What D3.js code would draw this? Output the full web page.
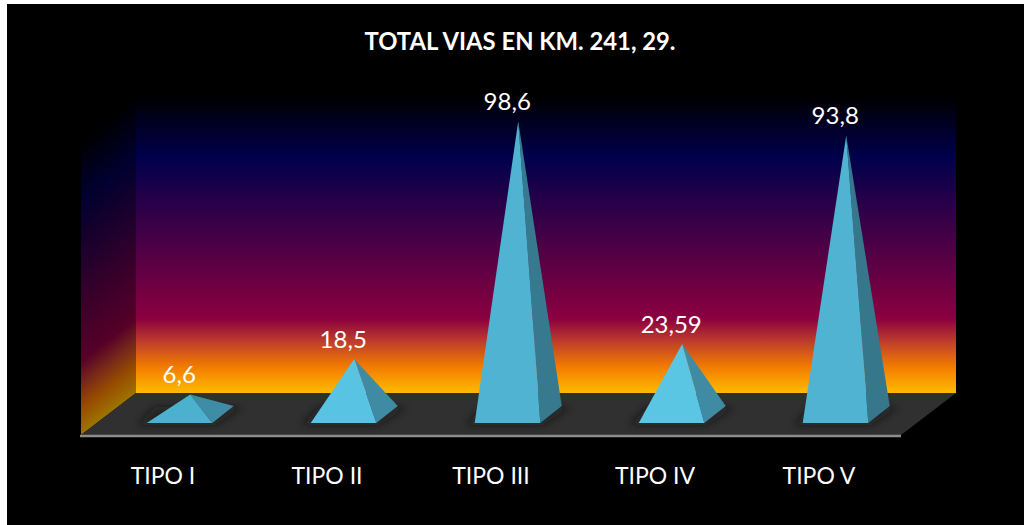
<!DOCTYPE html>
<html>
<head>
<meta charset="utf-8">
<script src="https://cdn.jsdelivr.net/npm/d3@7"></script>
<style>
  html, body { margin: 0; padding: 0; background: #fff; overflow: hidden; }
  text { font-family: Lato, "Open Sans", sans-serif; fill: #fff; }
</style>
</head>
<body>
<div id="chart"></div>
<script>
const title = 'TOTAL VIAS EN KM. 241, 29.'
const categories = ['TIPO I', 'TIPO II', 'TIPO III', 'TIPO IV', 'TIPO V']
const values = [6.6, 18.5, 98.6, 23.59, 93.8]
const yDomain = [0, 100]

// shading changes a bit from one pyramid to the next in the original
const frontFills = ['#4cb1ce', '#59c3e3', '#4fb3d1', '#5bc5e4', '#50b3d1']
const sideFills = ['#3e8ca5', '#3f8ba4', '#37798f', '#3f8ba4', '#36778c']

const wallStops = [
  [0, '#000000'], [0.205, '#00004c'], [0.75, '#8b0040'],
  [0.83, '#c0402a'], [0.91, '#f27a00'], [1, '#ffbb00']
]

const width = 1024
const height = 525
const left = 81, right = 901
const frontY = 435
const depthX = 55, depthY = 42
const baseY = frontY - depthY
const topY = 96

const x = d3.scaleBand().domain(categories).range([left, right])
const y = d3.scaleLinear().domain(yDomain).range([baseY, topY])

const svg = d3.select('#chart').append('svg')
  .attr('width', width)
  .attr('height', height)
  .style('display', 'block')

const defs = svg.append('defs')

function addGradient (id, x1, y1, x2, y2) {
  defs.append('linearGradient')
    .attr('id', id)
    .attr('gradientUnits', 'userSpaceOnUse')
    .attr('x1', x1).attr('y1', y1).attr('x2', x2).attr('y2', y2)
    .selectAll('stop')
    .data(wallStops)
    .enter().append('stop')
    .attr('offset', d => d[0])
    .attr('stop-color', d => d[1])
}

addGradient('backWall', 0, topY, 0, baseY)
// side wall: the colour bands run along the slope of the wall
const slope = Math.hypot(depthX, depthY)
const wallH = (baseY - topY) * depthX / slope
addGradient('sideWall', left + depthX, topY,
  left + depthX + depthY / slope * wallH, topY + depthX / slope * wallH)

defs.append('filter').attr('id', 'shadow')
  .attr('x', '-40%').attr('y', '-80%').attr('width', '180%').attr('height', '260%')
  .append('feGaussianBlur').attr('stdDeviation', 4)

defs.append('clipPath').attr('id', 'floorClip')
  .append('polygon')
  .attr('points', [[left, frontY], [right, frontY], [right + depthX, baseY], [left + depthX, baseY]].join(' '))

svg.append('rect')
  .attr('x', 7).attr('y', 4)
  .attr('width', width - 7).attr('height', height - 4)
  .attr('fill', '#000')

// back wall
svg.append('rect')
  .attr('x', left + depthX).attr('y', topY)
  .attr('width', right - left).attr('height', baseY - topY)
  .attr('fill', 'url(#backWall)')

// side wall
svg.append('polygon')
  .attr('points', [[left, frontY], [left + depthX, baseY], [left + depthX, topY], [left, topY + depthY]].join(' '))
  .attr('fill', 'url(#sideWall)')
  .attr('fill-opacity', 0.62)

// floor
svg.append('polygon')
  .attr('points', [[left, frontY], [right, frontY], [right + depthX, baseY], [left + depthX, baseY]].join(' '))
  .attr('fill', '#303030')

svg.append('line')
  .attr('x1', left - 1).attr('x2', right)
  .attr('y1', frontY + 1).attr('y2', frontY + 1)
  .attr('stroke', '#8c8c8c')
  .attr('stroke-width', 2.4)

// pyramids
const barW = x.bandwidth() * 0.4
const barDX = depthX * 0.39
const barDY = depthY * 0.4
const gapY = (depthY - barDY) / 2

const rows = categories.map((c, i) => {
  const x0 = x(c) + (x.bandwidth() - barW) / 2 + depthX * 0.3
  const yFront = frontY - gapY + 0.5
  return {
    c, i, v: values[i], x0, x1: x0 + barW, yFront,
    apexX: x0 + barW / 2 + barDX / 2,
    apexY: y(values[i]) + depthY / 2
  }
})

svg.append('g').attr('clip-path', 'url(#floorClip)')
  .selectAll('polygon')
  .data(rows)
  .enter().append('polygon')
  .attr('points', d => [
    [d.x0 - 10, d.yFront + 2], [d.x1 + 2, d.yFront + 2],
    [d.x1 + barDX + 10, d.yFront - barDY + 1], [d.x0 + 8, d.yFront - barDY + 1]
  ].join(' '))
  .attr('fill', '#111')
  .attr('fill-opacity', 0.55)
  .attr('filter', 'url(#shadow)')

const pyramid = svg.append('g').selectAll('g')
  .data(rows)
  .enter().append('g')

pyramid.append('polygon')
  .attr('points', d => [[d.x1, d.yFront], [d.x1 + barDX, d.yFront - barDY], [d.apexX, d.apexY]].join(' '))
  .attr('fill', d => sideFills[d.i])

pyramid.append('polygon')
  .attr('points', d => [[d.x0, d.yFront], [d.x1, d.yFront], [d.apexX, d.apexY]].join(' '))
  .attr('fill', d => frontFills[d.i])

// value labels
svg.append('g').selectAll('text')
  .data(rows)
  .enter().append('text')
  .attr('x', d => d.apexX - 11)
  .attr('y', d => d.apexY - 11)
  .attr('text-anchor', 'middle')
  .attr('font-size', 24)
  .text(d => String(d.v).replace('.', ','))

// category axis
const axis = svg.append('g')
  .attr('transform', `translate(0,${frontY})`)
  .call(d3.axisBottom(x).tickSize(0).tickPadding(33))
axis.select('.domain').remove()
axis.selectAll('text')
  .attr('font-size', 23)
  .style('font-family', 'Lato, "Open Sans", sans-serif')

svg.append('text')
  .attr('x', 520)
  .attr('y', 50)
  .attr('text-anchor', 'middle')
  .attr('font-size', 23.8)
  .attr('font-weight', 700)
  .text(title)
</script>
</body>
</html>
